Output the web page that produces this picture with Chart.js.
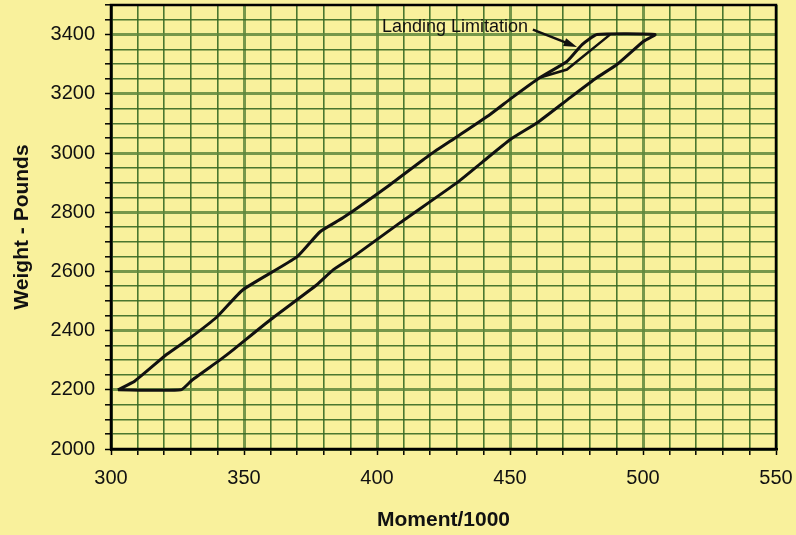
<!DOCTYPE html>
<html>
<head>
<meta charset="utf-8">
<script src="https://cdn.jsdelivr.net/npm/chart.js@4.4.1/dist/chart.umd.min.js"></script>
<style>
  html, body { margin: 0; padding: 0; background: #f9f19c; }
  #wrap { width: 796px; height: 535px; }
</style>
</head>
<body>
<div id="wrap"><canvas id="cgChart"></canvas></div>
<script>
// Forward (upper/left) edge of the CG envelope
const fwdMoment = [302.6, 309, 321, 329.7, 339.8, 349.6, 369.9, 378.6, 387.2, 404.9, 419.9, 430.1, 442.5, 450.8, 461.3, 471.4, 477.1, 482.7];
const fwdWeight = [2200, 2230, 2320, 2375, 2446, 2538, 2649, 2734, 2781, 2893, 2994, 3055, 3130, 3187, 3255, 3309, 3366, 3400];

// Aft (lower/right) edge of the envelope
const aftMoment = [326.3, 330.5, 341, 345.9, 359.8, 377.4, 383.5, 391, 408.6, 430.1, 439.8, 450, 460.2, 472.6, 482.7, 490.2, 500, 504.5];
const aftWeight = [2200, 2233, 2301, 2335, 2436, 2555, 2605, 2649, 2764, 2900, 2971, 3045, 3102, 3187, 3255, 3299, 3376, 3400];

// Landing limitation line inside the envelope
const landingMoment = [461.3, 471.4, 487.6];
const landingWeight = [3255, 3282, 3400];

// Axis labels
const momentLabels = [300, 350, 400, 450, 500, 550];
const weightLabels = [2000, 2200, 2400, 2600, 2800, 3000, 3200, 3400];

const BG = '#f9f19c';
const MINOR = 'rgba(55, 105, 35, 0.9)';
const MAJOR = 'rgba(95, 135, 60, 0.85)';
const FONT = '"Liberation Sans", Arial, sans-serif';

// Build the closed envelope: up the forward edge, across the top, down the aft edge
const envelope = [];
fwdMoment.forEach((m, i) => envelope.push({ x: m, y: fwdWeight[i] }));
for (let i = aftMoment.length - 1; i >= 0; i--) {
    envelope.push({ x: aftMoment[i], y: aftWeight[i] });
}
envelope.push({ x: fwdMoment[0], y: fwdWeight[0] });

const landing = landingMoment.map((m, i) => ({ x: m, y: landingWeight[i] }));

// Canvas background + black frame round the plot area
const framePlugin = {
    id: 'frame',
    beforeDraw(chart) {
        const ctx = chart.ctx;
        ctx.save();
        ctx.fillStyle = BG;
        ctx.fillRect(0, 0, chart.width, chart.height);
        ctx.restore();
    },
    afterDatasetsDraw(chart) {
        const { ctx, chartArea: a } = chart;
        ctx.save();
        ctx.strokeStyle = '#000';
        ctx.lineWidth = 2.5;
        ctx.strokeRect(a.left, a.top, a.right - a.left, a.bottom - a.top);
        ctx.restore();
    }
};

// "Landing Limitation" label with its arrow
const noteText = { x: 429.3, y: 3424 };
const noteArrow = { x1: 458.6, y1: 3417, x2: 475.2, y2: 3358 };

const notePlugin = {
    id: 'note',
    afterDatasetsDraw(chart) {
        const { ctx, scales: { x, y } } = chart;
        ctx.save();
        ctx.font = '18px ' + FONT;
        ctx.fillStyle = '#111';
        ctx.textAlign = 'center';
        ctx.textBaseline = 'middle';
        ctx.fillText('Landing Limitation', x.getPixelForValue(noteText.x), y.getPixelForValue(noteText.y));

        const x1 = x.getPixelForValue(noteArrow.x1), y1 = y.getPixelForValue(noteArrow.y1);
        const x2 = x.getPixelForValue(noteArrow.x2), y2 = y.getPixelForValue(noteArrow.y2);
        const ang = Math.atan2(y2 - y1, x2 - x1);
        const head = 14;
        ctx.strokeStyle = '#111';
        ctx.lineWidth = 2.5;
        ctx.beginPath();
        ctx.moveTo(x1, y1);
        ctx.lineTo(x2 - head * 0.8 * Math.cos(ang), y2 - head * 0.8 * Math.sin(ang));
        ctx.stroke();
        ctx.beginPath();
        ctx.moveTo(x2, y2);
        ctx.lineTo(x2 - head * Math.cos(ang - 0.3), y2 - head * Math.sin(ang - 0.3));
        ctx.lineTo(x2 - head * Math.cos(ang + 0.3), y2 - head * Math.sin(ang + 0.3));
        ctx.closePath();
        ctx.fillStyle = '#111';
        ctx.fill();
        ctx.restore();
    }
};

new Chart(document.getElementById('cgChart'), {
    type: 'scatter',
    data: {
        datasets: [
            {
                label: 'Envelope',
                data: envelope,
                showLine: true,
                borderColor: '#111',
                borderWidth: 3,
                pointRadius: 0,
                tension: 0.15,
                fill: false
            },
            {
                label: 'Landing',
                data: landing,
                showLine: true,
                borderColor: '#111',
                borderWidth: 2.5,
                pointRadius: 0,
                tension: 0,
                fill: false
            }
        ]
    },
    options: {
        responsive: true,
        maintainAspectRatio: false,
        animation: false,
        layout: { padding: { top: 5, right: 20, left: 0, bottom: 0 } },
        plugins: {
            legend: { display: false },
            tooltip: { enabled: false }
        },
        scales: {
            x: {
                type: 'linear',
                min: momentLabels[0],
                max: momentLabels[momentLabels.length - 1],
                afterFit: s => {
                    s.height = 86;
                    s.paddingLeft = 0;
                    s.paddingRight = 0;
                },
                ticks: {
                    stepSize: 10,
                    autoSkip: false,
                    maxRotation: 0,
                    padding: 11,
                    color: '#111',
                    font: { family: FONT, size: 20 },
                    callback: v => momentLabels.includes(v) ? String(v) : ''
                },
                grid: {
                    color: c => c.tick && c.tick.value % 50 === 0 ? MAJOR : MINOR,
                    lineWidth: c => c.tick && c.tick.value % 50 === 0 ? 3 : 1.6,
                    tickColor: '#000',
                    tickLength: 6,
                    tickWidth: 1.5
                },
                border: { color: '#000', width: 2.5 },
                title: {
                    display: true,
                    text: 'Moment/1000',
                    color: '#111',
                    padding: { top: 0, bottom: 2 },
                    font: { family: FONT, size: 21, weight: 'bold' }
                }
            },
            y: {
                type: 'linear',
                min: 2000,
                max: 3500,
                afterFit: s => {
                    s.width = 111;
                    s.paddingTop = 0;
                    s.paddingBottom = 0;
                },
                ticks: {
                    stepSize: 50,
                    autoSkip: false,
                    padding: 10,
                    color: '#111',
                    font: { family: FONT, size: 20 },
                    callback: v => weightLabels.includes(v) ? String(v) : ''
                },
                grid: {
                    color: c => c.tick && c.tick.value % 200 === 0 ? MAJOR : MINOR,
                    lineWidth: c => c.tick && c.tick.value % 200 === 0 ? 3 : 1.6,
                    tickColor: '#000',
                    tickLength: 6,
                    tickWidth: 1.5
                },
                border: { color: '#000', width: 2.5 },
                title: {
                    display: true,
                    text: 'Weight - Pounds',
                    color: '#111',
                    padding: { top: 10, bottom: 0 },
                    font: { family: FONT, size: 21, weight: 'bold' }
                }
            }
        }
    },
    plugins: [framePlugin, notePlugin]
});
</script>
</body>
</html>
